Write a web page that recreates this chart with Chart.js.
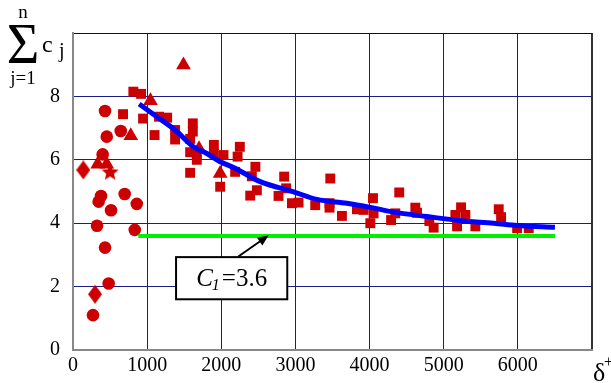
<!DOCTYPE html>
<html>
<head>
<meta charset="utf-8">
<script src="https://cdn.jsdelivr.net/npm/chart.js@4.4.0/dist/chart.umd.min.js"></script>
<style>
    html, body { margin: 0; padding: 0; background: #fff; }
    canvas { display: block; }
</style>
</head>
<body>
<canvas id="sumChart" width="611" height="383"></canvas>
<script>
// axis ticks
const xTicks = [0, 1000, 2000, 3000, 4000, 5000, 6000, 7000];
const xTickLabels = ['0', '1000', '2000', '3000', '4000', '5000', '6000', ''];
const yTicks = [0, 2, 4, 6, 8, 10];
const yTickLabels = ['0', '2', '4', '6', '8', ''];

// measured points, [delta+, sum c_j]
const squarePoints = [
    [814, 8.15], [918, 8.08], [675, 7.44], [945, 7.30], [1100, 6.78], [1160, 7.36], [1270, 7.33],
    [1377, 6.94], [1377, 6.64], [1616, 7.15], [1616, 6.89], [1580, 6.66], [1580, 6.24], [1670, 6.2],
    [1670, 6.0], [1580, 5.59], [1900, 6.47], [1900, 6.2], [2030, 6.15], [1985, 5.15], [2250, 6.41],
    [2220, 6.10], [2187, 5.62], [2460, 5.78], [2412, 5.48], [2480, 5.04], [2390, 4.87], [2848, 5.47],
    [2875, 5.10], [2772, 4.86], [2953, 4.63], [3042, 4.65], [3470, 5.41], [3267, 4.57], [3460, 4.63],
    [3460, 4.49], [3627, 4.23], [3830, 4.44], [3920, 4.42], [4046, 4.79], [4054, 4.31], [4010, 4.00],
    [4400, 4.97], [4347, 4.31], [4290, 4.10], [4617, 4.49], [4640, 4.33], [4806, 4.07], [4864, 3.86],
    [5234, 4.50], [5157, 4.26], [5292, 4.26], [5180, 3.90], [5427, 3.90], [5742, 4.44], [5774, 4.19],
    [5990, 3.84], [6147, 3.84]
];
const circlePoints = [
    [432, 7.54], [455, 6.73], [644, 6.91], [400, 6.17], [378, 4.86], [346, 4.68], [697, 4.92],
    [513, 4.41], [860, 4.61], [324, 3.92], [833, 3.79], [432, 3.23], [481, 2.10], [270, 1.10]
];
const trianglePoints = [
    [333, 5.86], [455, 5.86], [779, 6.76], [1045, 7.86], [1490, 8.99], [1700, 6.35], [1985, 5.57]
];
const diamondPoints = [[139, 5.68], [297, 1.76]];
const starPoints = [[500, 5.6]];

// fitted curve and the constant C1
const fitCurve = [
    [893, 7.76], [1130, 7.36], [1377, 6.94], [1624, 6.41], [1805, 6.2], [1985, 5.94], [2164, 5.76],
    [2524, 5.31], [2975, 4.99], [3290, 4.75], [3695, 4.63], [4010, 4.50], [4325, 4.35], [4775, 4.21],
    [5225, 4.08], [5675, 4.00], [5990, 3.93], [6500, 3.87]
];
const c1Value = 3.6;
const c1From = 880;
const c1To = 6500;

// callout box and arrow, in data units
const calloutBox = { x0: 1390, x1: 2890, y0: 1.6, y1: 2.93 };
const calloutArrow = { x0: 2230, y0: 2.95, x1: 2640, y1: 3.62 };

const red = '#cc0000';
const gridBlue = '#1c1c86';
const serif = "'Liberation Serif', 'Times New Roman', serif";

function toXY(list) {
    return list.map((p) => ({ x: p[0], y: p[1] }));
}

function makeDiamond(w, h, color) {
    const c = document.createElement('canvas');
    c.width = w;
    c.height = h;
    const g = c.getContext('2d');
    g.fillStyle = color;
    g.beginPath();
    g.moveTo(w / 2, 0);
    g.lineTo(w, h / 2);
    g.lineTo(w / 2, h);
    g.lineTo(0, h / 2);
    g.closePath();
    g.fill();
    return c;
}

function makeStar(r, color) {
    const c = document.createElement('canvas');
    c.width = c.height = r * 2 + 2;
    const g = c.getContext('2d');
    g.fillStyle = color;
    g.beginPath();
    for (let i = 0; i < 10; i++) {
        const rr = i % 2 == 0 ? r : r * 0.45;
        const a = -Math.PI / 2 + i * Math.PI / 5;
        g.lineTo(r + 1 + rr * Math.cos(a), r + 1 + rr * Math.sin(a));
    }
    g.closePath();
    g.fill();
    return c;
}

const overlayPlugin = {
    id: 'overlay',
    afterDatasetsDraw(chart) {
        const ctx = chart.ctx;
        const sx = chart.scales.x;
        const sy = chart.scales.y;
        ctx.save();

        // arrow
        const ax0 = sx.getPixelForValue(calloutArrow.x0), ay0 = sy.getPixelForValue(calloutArrow.y0);
        const ax1 = sx.getPixelForValue(calloutArrow.x1), ay1 = sy.getPixelForValue(calloutArrow.y1);
        const ang = Math.atan2(ay1 - ay0, ax1 - ax0);
        const head = 12;
        ctx.strokeStyle = '#000';
        ctx.fillStyle = '#000';
        ctx.lineWidth = 2;
        ctx.beginPath();
        ctx.moveTo(ax0, ay0);
        ctx.lineTo(ax1 - head * 0.8 * Math.cos(ang), ay1 - head * 0.8 * Math.sin(ang));
        ctx.stroke();
        ctx.beginPath();
        ctx.moveTo(ax1, ay1);
        ctx.lineTo(ax1 - head * Math.cos(ang - 0.4), ay1 - head * Math.sin(ang - 0.4));
        ctx.lineTo(ax1 - head * Math.cos(ang + 0.4), ay1 - head * Math.sin(ang + 0.4));
        ctx.closePath();
        ctx.fill();

        // box
        const bx0 = sx.getPixelForValue(calloutBox.x0), bx1 = sx.getPixelForValue(calloutBox.x1);
        const by0 = sy.getPixelForValue(calloutBox.y1), by1 = sy.getPixelForValue(calloutBox.y0);
        ctx.fillStyle = '#fff';
        ctx.fillRect(bx0, by0, bx1 - bx0, by1 - by0);
        ctx.lineWidth = 2;
        ctx.strokeRect(bx0, by0, bx1 - bx0, by1 - by0);

        // C1=3.6
        const bigItalic = 'italic 25px ' + serif;
        const subItalic = 'italic 16px ' + serif;
        const big = '25px ' + serif;
        const rest = '=' + c1Value.toFixed(1);
        ctx.fillStyle = '#000';
        ctx.textBaseline = 'alphabetic';
        ctx.textAlign = 'left';
        ctx.font = bigItalic;
        const wC = ctx.measureText('C').width;
        ctx.font = subItalic;
        const w1 = ctx.measureText('1').width;
        ctx.font = big;
        const wR = ctx.measureText(rest).width;
        let tx = (bx0 + bx1) / 2 - (wC + w1 + 1 + wR) / 2;
        const base = (by0 + by1) / 2 + 8;
        ctx.font = bigItalic;
        ctx.fillText('C', tx, base);
        tx += wC;
        ctx.font = subItalic;
        ctx.fillText('1', tx - 1, base + 4);
        tx += w1 + 1;
        ctx.font = big;
        ctx.fillText(rest, tx, base);
        ctx.restore();
    },
    afterDraw(chart) {
        const ctx = chart.ctx;
        ctx.save();
        ctx.fillStyle = '#000';
        ctx.textBaseline = 'alphabetic';
        ctx.textAlign = 'center';
        ctx.font = '56px ' + serif;
        ctx.fillText('\u03a3', 23, 63);
        ctx.font = '19px ' + serif;
        ctx.fillText('n', 23, 18);
        ctx.fillText('j=1', 23, 84);
        ctx.textAlign = 'left';
        ctx.font = '24px ' + serif;
        ctx.fillText('c', 42, 52);
        ctx.font = '20px ' + serif;
        ctx.fillText('j', 59, 57);
        ctx.font = '26px ' + serif;
        ctx.fillText('\u03b4', 593, 381);
        ctx.font = '16px ' + serif;
        ctx.fillText('+', 604, 367);
        ctx.restore();
    }
};

function main() {
    Chart.defaults.font.family = serif;
    Chart.defaults.color = '#000';

    const markerBase = {
        type: 'scatter',
        backgroundColor: red,
        borderWidth: 0,
        order: 2
    };

    new Chart('sumChart', {
        type: 'scatter',
        data: {
            datasets: [
                {
                    type: 'line',
                    data: toXY(fitCurve),
                    borderColor: '#0000ff',
                    borderWidth: 5,
                    pointRadius: 0,
                    cubicInterpolationMode: 'monotone',
                    fill: false,
                    order: 0
                },
                {
                    type: 'line',
                    data: [{ x: c1From, y: c1Value }, { x: c1To, y: c1Value }],
                    borderColor: '#00ee00',
                    borderWidth: 4,
                    pointRadius: 0,
                    fill: false,
                    order: 0
                },
                Object.assign({}, markerBase, { data: toXY(squarePoints), pointStyle: 'rect', pointRadius: 7 }),
                Object.assign({}, markerBase, { data: toXY(circlePoints), pointStyle: 'circle', pointRadius: 6.3 }),
                Object.assign({}, markerBase, { data: toXY(trianglePoints), pointStyle: 'triangle', pointRadius: 8.5 }),
                Object.assign({}, markerBase, { data: toXY(diamondPoints), pointStyle: makeDiamond(14, 19, red) }),
                Object.assign({}, markerBase, { data: toXY(starPoints), pointStyle: makeStar(9, red) })
            ]
        },
        options: {
            responsive: false,
            animation: false,
            devicePixelRatio: 1,
            layout: { padding: { top: 33, right: 19, left: 0, bottom: 0 } },
            plugins: {
                legend: { display: false },
                tooltip: { enabled: false }
            },
            scales: {
                x: {
                    type: 'linear',
                    min: 0,
                    max: 7000,
                    afterBuildTicks: (scale) => { scale.ticks = xTicks.map((v) => ({ value: v })); },
                    afterFit: (scale) => { scale.height = 33; },
                    ticks: {
                        callback: (v) => xTickLabels[xTicks.indexOf(v)],
                        font: { size: 20, family: serif },
                        padding: 4,
                        maxRotation: 0
                    },
                    grid: {
                        drawTicks: false,
                        color: (c) => c.tick && c.tick.value === 7000 ? '#333' : gridBlue,
                        lineWidth: (c) => c.tick && c.tick.value === 7000 ? 2 : 1
                    },
                    border: { color: '#888', width: 2 }
                },
                y: {
                    type: 'linear',
                    min: 0,
                    max: 10,
                    afterBuildTicks: (scale) => { scale.ticks = yTicks.map((v) => ({ value: v })); },
                    afterFit: (scale) => { scale.width = 73; },
                    ticks: {
                        callback: (v) => yTickLabels[yTicks.indexOf(v)],
                        font: { size: 20, family: serif },
                        padding: 13
                    },
                    grid: {
                        drawTicks: false,
                        color: (c) => c.tick && c.tick.value === 10 ? '#111' : gridBlue,
                        lineWidth: 1
                    },
                    border: { color: '#888', width: 2 }
                }
            }
        },
        plugins: [overlayPlugin]
    });
}

window.onload = main;
</script>
</body>
</html>
